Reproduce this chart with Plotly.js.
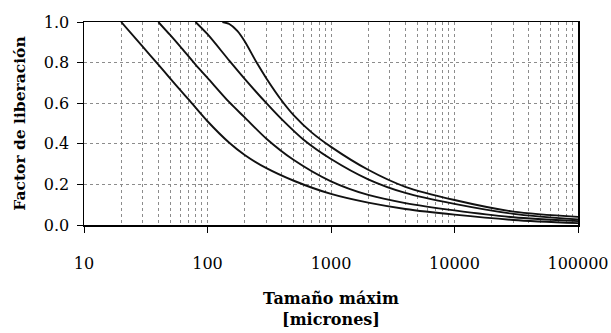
<!DOCTYPE html>
<html>
<head>
<meta charset="utf-8">
<script src="https://cdn.plot.ly/plotly-3.0.1.min.js"></script>
<style>html,body{margin:0;padding:0;background:#fff;}#chart{width:611px;height:333px;}</style>
</head>
<body>
<div id="chart"></div>
<script>
// Curve data (size in microns, liberation factor)
const size1 = [20, 30, 40, 50, 60, 72, 100, 150, 200, 300, 500, 1000, 2000, 4000, 10000, 30000, 100000];
const lib1  = [1.0, 0.877, 0.79, 0.721, 0.666, 0.611, 0.511, 0.405, 0.345, 0.28, 0.218, 0.153, 0.11, 0.079, 0.051, 0.025, 0.009];

const size2 = [40, 50, 60, 80, 100, 150, 200, 300, 500, 1000, 2000, 4000, 10000, 30000, 100000];
const lib2  = [1.0, 0.935, 0.88, 0.79, 0.725, 0.605, 0.53, 0.425, 0.32, 0.215, 0.148, 0.108, 0.072, 0.038, 0.019];

const size3 = [80, 100, 150, 200, 300, 400, 600, 1000, 2000, 4000, 10000, 30000, 100000];
const lib3  = [1.0, 0.94, 0.81, 0.72, 0.60, 0.52, 0.42, 0.325, 0.225, 0.158, 0.104, 0.055, 0.027];

const size4 = [132, 150, 175, 200, 250, 300, 400, 500, 700, 1000, 2000, 4000, 10000, 30000, 100000];
const lib4  = [1.0, 0.99, 0.955, 0.905, 0.80, 0.722, 0.612, 0.54, 0.455, 0.385, 0.272, 0.188, 0.123, 0.066, 0.04];

const xTickVals = [10, 100, 1000, 10000, 100000];
const xTickText = ['10', '100', '1000', '10000', '100000'];
const yTickVals = [0, 0.2, 0.4, 0.6, 0.8, 1.0];

const series = [[size1, lib1], [size2, lib2], [size3, lib3], [size4, lib4]];
const traces = series.map(s => ({
  x: s[0], y: s[1], type: 'scatter', mode: 'lines',
  line: {color: '#111', width: 1.9, shape: 'spline', smoothing: 0.8},
  showlegend: false, hoverinfo: 'skip', cliponaxis: true
}));

const serif = 'DejaVu Serif';
const gridCol = '#8c8c8c';

const layout = {
  width: 611, height: 333,
  margin: {l: 84, r: 33, t: 22, b: 108},
  paper_bgcolor: '#fff', plot_bgcolor: '#fff',
  font: {family: serif, color: '#000'},
  xaxis: {
    type: 'log', range: [1, 5],
    tickvals: xTickVals, ticktext: xTickText,
    ticks: 'outside', ticklen: 6, tickwidth: 1, tickcolor: '#000',
    ticklabelstandoff: 17,
    tickfont: {family: serif, size: 16, color: '#000'},
    showgrid: true, gridcolor: gridCol, gridwidth: 1, griddash: 'dot',
    minor: {dtick: 'D1', showgrid: true, gridcolor: gridCol, gridwidth: 1, griddash: 'dot', ticks: ''},
    showline: true, linecolor: '#000', linewidth: 1.5, mirror: true,
    zeroline: false,
    title: {text: 'Tamaño máxim<br>[micrones]', standoff: 21,
            font: {family: serif, size: 16, weight: 'bold', color: '#000'}}
  },
  yaxis: {
    range: [0, 1.0], tickvals: yTickVals, tickformat: '.1f',
    ticks: 'outside', ticklen: 6, tickwidth: 1, tickcolor: '#000',
    ticklabelstandoff: 4,
    tickfont: {family: serif, size: 16, color: '#000'},
    showgrid: true, gridcolor: gridCol, gridwidth: 1, griddash: 'dot',
    showline: true, linecolor: '#000', linewidth: 1.5, mirror: true,
    zeroline: false,
    title: {text: 'Factor de liberación', standoff: 14,
            font: {family: serif, size: 15.5, weight: 'bold', color: '#000'}}
  }
};

Plotly.newPlot('chart', traces, layout, {staticPlot: true, displayModeBar: false});
</script>
</body>
</html>
